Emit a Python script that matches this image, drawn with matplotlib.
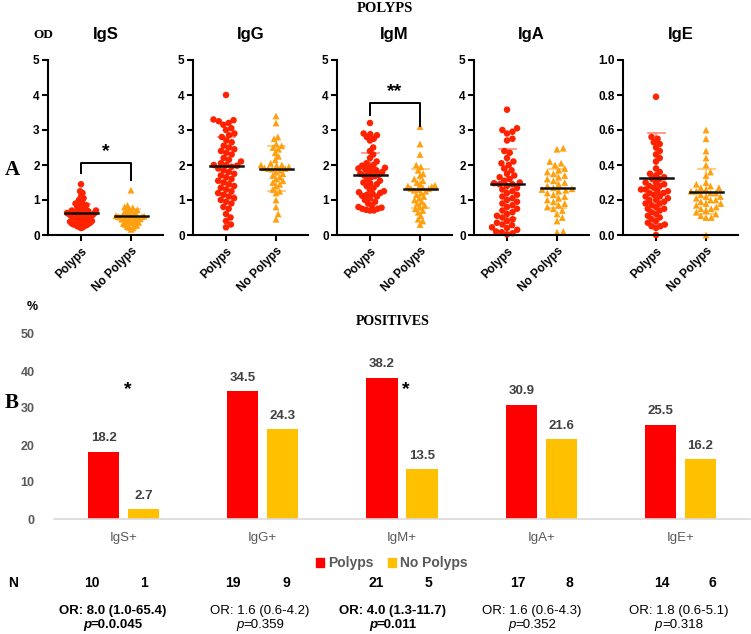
import numpy as np
import matplotlib.pyplot as plt
from matplotlib.patches import Patch
from matplotlib.offsetbox import TextArea, HPacker, AnnotationBbox

plt.rcParams['font.family'] = ['Liberation Sans', 'DejaVu Sans']

W, H = 751, 634

groups = ['Polyps', 'No Polyps']
panels = ['IgS', 'IgG', 'IgM', 'IgA', 'IgE']

# OD values (Polyps n=55, No Polyps n=37)
igs_p = [1.45, 1.25, 1.2, 1.1, 1.05, 1.0, 0.95, 0.9, 0.88, 0.85, 0.82, 0.8, 0.78, 0.75,
         0.72, 0.7, 0.7, 0.68, 0.66, 0.65, 0.64, 0.63, 0.62, 0.62, 0.61, 0.6, 0.6, 0.58,
         0.57, 0.56, 0.55, 0.54, 0.52, 0.5, 0.5, 0.48, 0.47, 0.45, 0.44, 0.42, 0.4, 0.4,
         0.38, 0.36, 0.35, 0.33, 0.32, 0.3, 0.3, 0.28, 0.27, 0.25, 0.24, 0.22, 0.2]
igs_np = [1.28, 0.85, 0.8, 0.78, 0.75, 0.72, 0.7, 0.68, 0.65, 0.62, 0.6, 0.58, 0.56, 0.55,
          0.54, 0.53, 0.52, 0.52, 0.51, 0.5, 0.48, 0.46, 0.45, 0.44, 0.42, 0.4, 0.38, 0.36,
          0.35, 0.33, 0.3, 0.28, 0.26, 0.24, 0.22, 0.2, 0.16]
igg_p = [4.0, 3.3, 3.28, 3.25, 3.2, 3.15, 3.05, 3.0, 2.9, 2.85, 2.8, 2.7, 2.65, 2.55, 2.5,
         2.45, 2.4, 2.35, 2.3, 2.2, 2.15, 2.1, 2.05, 2.0, 2.0, 1.98, 1.95, 1.9, 1.85, 1.8,
         1.75, 1.7, 1.65, 1.6, 1.55, 1.5, 1.45, 1.4, 1.35, 1.3, 1.25, 1.2, 1.15, 1.1, 1.05,
         1.0, 0.95, 0.9, 0.8, 0.75, 0.6, 0.5, 0.4, 0.3, 0.22]
igg_np = [3.4, 3.2, 2.8, 2.75, 2.6, 2.55, 2.5, 2.45, 2.35, 2.25, 2.15, 2.05, 2.0, 2.0, 1.98,
          1.95, 1.92, 1.9, 1.9, 1.88, 1.85, 1.8, 1.75, 1.7, 1.65, 1.6, 1.55, 1.5, 1.45, 1.4,
          1.3, 1.25, 1.2, 1.0, 0.8, 0.6, 0.45]
igm_p = [3.2, 2.9, 2.88, 2.85, 2.8, 2.75, 2.7, 2.5, 2.4, 2.3, 2.2, 2.1, 2.05, 2.0, 1.98,
         1.95, 1.92, 1.9, 1.88, 1.85, 1.82, 1.8, 1.78, 1.75, 1.72, 1.7, 1.68, 1.65, 1.6,
         1.55, 1.5, 1.48, 1.45, 1.4, 1.35, 1.3, 1.25, 1.22, 1.2, 1.18, 1.15, 1.12, 1.1,
         1.05, 1.0, 0.95, 0.9, 0.85, 0.8, 0.78, 0.75, 0.75, 0.72, 0.7, 0.7]
igm_np = [3.1, 2.6, 2.3, 2.0, 1.95, 1.85, 1.75, 1.7, 1.6, 1.55, 1.5, 1.45, 1.42, 1.4, 1.38,
          1.35, 1.33, 1.32, 1.3, 1.28, 1.25, 1.2, 1.15, 1.1, 1.05, 1.0, 0.95, 0.9, 0.85,
          0.8, 0.75, 0.7, 0.65, 0.55, 0.45, 0.4, 0.3]
iga_p = [3.58, 3.05, 3.0, 2.95, 2.9, 2.75, 2.7, 2.4, 2.35, 2.2, 2.1, 2.05, 2.0, 1.9, 1.85,
         1.75, 1.7, 1.65, 1.6, 1.55, 1.5, 1.48, 1.45, 1.45, 1.4, 1.35, 1.3, 1.25, 1.2, 1.15,
         1.1, 1.05, 1.0, 0.95, 0.9, 0.85, 0.8, 0.75, 0.7, 0.65, 0.6, 0.55, 0.5, 0.45, 0.4,
         0.35, 0.3, 0.28, 0.22, 0.2, 0.15, 0.1, 0.08, 0.05, 0.02]
iga_np = [2.48, 2.45, 2.1, 2.05, 2.0, 1.9, 1.85, 1.8, 1.75, 1.7, 1.65, 1.6, 1.55, 1.5, 1.45,
          1.4, 1.35, 1.32, 1.3, 1.28, 1.25, 1.2, 1.15, 1.1, 1.05, 1.0, 0.95, 0.9, 0.85, 0.8,
          0.75, 0.7, 0.6, 0.5, 0.4, 0.1, 0.08]
ige_p = [0.79, 0.56, 0.55, 0.53, 0.52, 0.5, 0.48, 0.46, 0.44, 0.42, 0.38, 0.36, 0.35, 0.34,
         0.33, 0.32, 0.32, 0.3, 0.3, 0.29, 0.28, 0.28, 0.27, 0.26, 0.26, 0.25, 0.25, 0.24,
         0.24, 0.23, 0.22, 0.22, 0.21, 0.2, 0.2, 0.19, 0.18, 0.18, 0.17, 0.16, 0.15, 0.15,
         0.14, 0.13, 0.12, 0.11, 0.1, 0.09, 0.08, 0.07, 0.06, 0.05, 0.05, 0.04, 0.0]
ige_np = [0.6, 0.55, 0.48, 0.44, 0.4, 0.36, 0.34, 0.3, 0.29, 0.28, 0.27, 0.27, 0.26, 0.25,
          0.25, 0.24, 0.24, 0.23, 0.22, 0.22, 0.21, 0.2, 0.2, 0.19, 0.18, 0.18, 0.17, 0.16,
          0.15, 0.15, 0.14, 0.13, 0.12, 0.11, 0.1, 0.1, 0.0]

od_p = [igs_p, igg_p, igm_p, iga_p, ige_p]
od_np = [igs_np, igg_np, igm_np, iga_np, ige_np]
ymax = [5, 5, 5, 5, 1.0]

# centre line and error bar ends as drawn
mid_p = [0.64, 1.97, 1.72, 1.47, 0.325]
hi_p = [0.90, 2.80, 2.33, 2.45, 0.585]
lo_p = [0.38, 1.14, 1.12, 0.50, 0.065]
mid_np = [0.53, 1.90, 1.32, 1.34, 0.245]
hi_np = [0.75, 2.53, 1.89, 1.90, 0.375]
lo_np = [0.31, 1.25, 0.76, 0.77, 0.12]

# positives (%)
pos_labels = ['IgS+', 'IgG+', 'IgM+', 'IgA+', 'IgE+']
pct_p = [18.2, 34.5, 38.2, 30.9, 25.5]
pct_np = [2.7, 24.3, 13.5, 21.6, 16.2]
n_p = [10, 19, 21, 17, 14]
n_np = [1, 9, 5, 8, 6]
or_txt = ['OR: 8.0 (1.0-65.4)', 'OR: 1.6 (0.6-4.2)', 'OR: 4.0 (1.3-11.7)',
          'OR: 1.6 (0.6-4.3)', 'OR: 1.8 (0.6-5.1)']
p_txt = ['0.0.045', '0.359', '0.011', '0.352', '0.318']
sig = [True, False, True, False, False]

RED = '#ff2200'
ORANGE = '#ffa010'


def fx(px):
    return px / W


def fy(py):
    return 1 - py / H


def swarm(vals, ppu, d=6.0, maxw=15.0):
    # simple beeswarm in pixel units, squeezed to +-maxw like GraphPad does
    ys = np.asarray(vals, float) * ppu
    xs = np.zeros(len(ys))
    placed = []
    for i in np.argsort(ys):
        y = ys[i]
        near = [(a, b) for a, b in placed if abs(b - y) < d]
        cands = [0.0]
        for a, b in near:
            dx = np.sqrt(d * d - (b - y) ** 2)
            cands += [a + dx, a - dx]
        cands.sort(key=abs)
        for c in cands:
            if all((c - a) ** 2 + (y - b) ** 2 >= d * d - 1e-6 for a, b in near):
                xs[i] = c
                break
        placed.append((xs[i], y))
    m = np.abs(xs).max()
    if m > maxw:
        xs = xs * maxw / m
    return xs


fig = plt.figure(figsize=(W / 100, H / 100), dpi=100)

lefts = [48, 193, 337, 474, 623]
ppx = 50.0  # pixels per category unit
for k, name in enumerate(panels):
    ax = fig.add_axes([fx(lefts[k]), fy(235), 115 / W, 175 / H])
    ppu = 175.0 / ymax[k]
    for g, (vals, mk, col, mid, hi, lo) in enumerate([
            (od_p[k], 'o', RED, mid_p[k], hi_p[k], lo_p[k]),
            (od_np[k], '^', ORANGE, mid_np[k], hi_np[k], lo_np[k])]):
        ecol = '#ff8a7a' if g == 0 else '#ffc36a'
        ax.plot([g, g], [lo, hi], color=ecol, lw=1.2, zorder=1)
        for v in (lo, hi):
            ax.plot([g - 0.17, g + 0.17], [v, v], color=ecol, lw=1.2, zorder=1)
        xo = swarm(vals, ppu, d=6.0 if mk == 'o' else 6.4) / ppx
        ax.scatter(g + xo, vals, marker=mk, s=22 if mk == 'o' else 24, color=col,
                   edgecolor='none', zorder=2, clip_on=False)
        ax.plot([g - 0.33, g + 0.33], [mid, mid], color='#111111', lw=1.8, zorder=3)
    ax.set_xlim(-0.66, 1.64)
    ax.set_ylim(0, ymax[k])
    if ymax[k] == 1.0:
        ax.set_yticks(np.arange(0, 1.01, 0.2))
        ax.set_yticklabels(['%.1f' % t for t in np.arange(0, 1.01, 0.2)])
    else:
        ax.set_yticks(range(6))
    ax.set_xticks([0, 1])
    ax.set_xticklabels(groups, rotation=45, ha='right', va='top', rotation_mode='anchor')
    for s in ('top', 'right'):
        ax.spines[s].set_visible(False)
    for s in ('left', 'bottom'):
        ax.spines[s].set_linewidth(1.5)
    ax.tick_params(width=1.5, length=4, labelsize=8.5, pad=2)
    ax.tick_params(axis='x', pad=3)
    for lab in ax.get_xticklabels() + ax.get_yticklabels():
        lab.set_fontweight('bold')
    ax.set_title(name, fontsize=12, fontweight='bold', pad=15)

    if name == 'IgS':
        ax.plot([0, 0, 1, 1], [1.76, 2.05, 2.05, 1.57], color='black', lw=1.4, clip_on=False)
        ax.text(0.5, 2.38, '*', ha='center', va='center', fontsize=14, fontweight='bold')
    if name == 'IgM':
        ax.plot([0, 0, 1, 1], [3.43, 3.76, 3.76, 3.11], color='black', lw=1.4, clip_on=False)
        ax.text(0.5, 4.1, '**', ha='center', va='center', fontsize=14, fontweight='bold')

# bar panel
axb = fig.add_axes([fx(54), fy(519), 696 / W, 185 / H])
x = np.arange(len(pos_labels))
off, bw = 0.1436, 0.223
axb.bar(x - off, pct_p, bw, color='#ff0000', label='Polyps')
axb.bar(x + off, pct_np, bw, color='#ffc000', label='No Polyps')
for xi, v in zip(x - off, pct_p):
    axb.text(xi, v + 2.0, '%.1f' % v, ha='center', va='bottom', fontsize=9.5,
             fontweight='bold', color='#404040')
for xi, v in zip(x + off, pct_np):
    axb.text(xi, v + 2.0, '%.1f' % v, ha='center', va='bottom', fontsize=9.5,
             fontweight='bold', color='#404040')
for i, s in enumerate(sig):
    if s:
        axb.text(i + 0.03, 35.0, '*', ha='center', va='center', fontsize=14,
                 fontweight='bold', color='black')
axb.set_xlim(-0.5, 4.5)
axb.set_ylim(0, 50)
axb.set_yticks(range(0, 51, 10))
axb.set_xticks(x)
axb.set_xticklabels(pos_labels, fontsize=9.5, color='#595959')
for s in ('top', 'right', 'left'):
    axb.spines[s].set_visible(False)
axb.spines['bottom'].set_color('#d9d9d9')
axb.spines['bottom'].set_linewidth(1.2)
axb.tick_params(length=0, pad=9)
axb.tick_params(axis='y', pad=14)
for lab in axb.get_yticklabels():
    lab.set_fontweight('bold')
    lab.set_color('#595959')
    lab.set_fontsize(9)

handles = [Patch(color='#ff0000', label='Polyps'), Patch(color='#ffc000', label='No Polyps')]
fig.legend(handles=handles, loc='center', bbox_to_anchor=(fx(392), fy(563)), ncol=2,
           frameon=False, handlelength=0.6, handleheight=0.6, handletextpad=0.3,
           columnspacing=1.0, prop={'weight': 'bold', 'size': 10}, labelcolor='#595959')

# headers and panel letters
serif = ['Liberation Serif', 'DejaVu Serif']
fig.text(fx(385), fy(8), 'POLYPS', ha='center', va='center', fontsize=10.5,
         fontweight='bold', family=serif)
fig.text(fx(393), fy(322), 'POSITIVES', ha='center', va='center', fontsize=10,
         fontweight='bold', family=serif)
fig.text(fx(43), fy(35), 'OD', ha='center', va='center', fontsize=9.5,
         fontweight='bold', family=serif)
fig.text(fx(12), fy(170), 'A', ha='center', va='center', fontsize=15,
         fontweight='bold', family=serif)
fig.text(fx(12), fy(403), 'B', ha='center', va='center', fontsize=15,
         fontweight='bold', family=serif)
fig.text(fx(32), fy(307), '%', ha='center', va='center', fontsize=9, fontweight='bold')

# N row
fig.text(fx(13), fy(583), 'N', ha='center', va='center', fontsize=10, fontweight='bold')
n_x = [(92, 144), (233, 286), (376, 428), (518, 569), (662, 712)]
for (a, b), p, q in zip(n_x, n_p, n_np):
    fig.text(fx(a), fy(583), str(p), ha='center', va='center', fontsize=10, fontweight='bold')
    fig.text(fx(b), fy(583), str(q), ha='center', va='center', fontsize=10, fontweight='bold')

# OR / p rows
or_x = [113, 260, 393, 532, 679]
for cx, t, pv, s in zip(or_x, or_txt, p_txt, sig):
    w = 'bold' if s else 'normal'
    fig.text(fx(cx), fy(611), t, ha='center', va='center', fontsize=9.5, fontweight=w)
    box = HPacker(children=[TextArea('p', textprops=dict(style='italic', weight=w, size=9.5)),
                            TextArea('=' + pv, textprops=dict(weight=w, size=9.5))],
                  pad=0, sep=0)
    ab = AnnotationBbox(box, (fx(cx), fy(625)), xycoords='figure fraction',
                        box_alignment=(0.5, 0.5), frameon=False)
    fig.add_artist(ab)

fig.savefig('out.png', dpi=100)
